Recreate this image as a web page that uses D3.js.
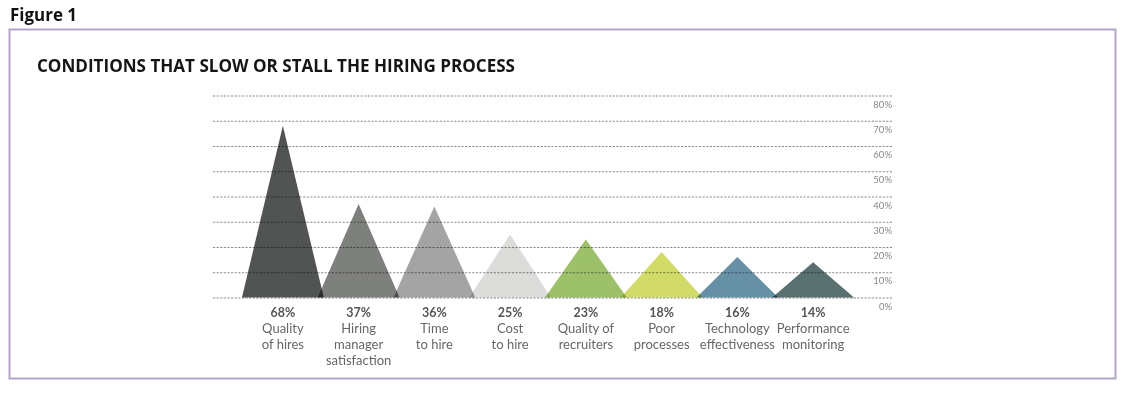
<!DOCTYPE html>
<html>
<head>
<meta charset="utf-8">
<script src="https://cdn.jsdelivr.net/npm/d3@7"></script>
<style>
  html, body { margin: 0; padding: 0; background: #ffffff; }
  svg { display: block; }
</style>
</head>
<body>
<svg id="chart" width="1129" height="397"></svg>
<script>
const categories = ["Quality of hires", "Hiring manager satisfaction", "Time to hire", "Cost to hire",
  "Quality of recruiters", "Poor processes", "Technology effectiveness", "Performance monitoring"];
const categoryLines = [
  ["Quality", "of hires"],
  ["Hiring", "manager", "satisfaction"],
  ["Time", "to hire"],
  ["Cost", "to hire"],
  ["Quality of", "recruiters"],
  ["Poor", "processes"],
  ["Technology", "effectiveness"],
  ["Performance", "monitoring"]
];
const values = [68, 37, 36, 25, 23, 18, 16, 14];
const colors = ["#525453", "#7e807d", "#a3a4a3", "#dcdcda", "#9dc168", "#d2db67", "#6590a6", "#58706f"];
const tickValues = [0, 10, 20, 30, 40, 50, 60, 70, 80];

const svg = d3.select("#chart");

// Figure label and frame
svg.append("text")
  .attr("x", 10).attr("y", 21)
  .attr("font-family", "Open Sans, sans-serif")
  .attr("font-weight", 700).attr("font-size", 18)
  .attr("textLength", 67).attr("lengthAdjust", "spacingAndGlyphs")
  .attr("fill", "#111")
  .text("Figure 1");

svg.append("rect")
  .attr("x", 9.5).attr("y", 29.5)
  .attr("width", 1106).attr("height", 349)
  .attr("fill", "none")
  .attr("stroke", "#b3a3c9").attr("stroke-width", 2);

svg.append("text")
  .attr("x", 37).attr("y", 72)
  .attr("font-family", "Open Sans, sans-serif")
  .attr("font-weight", 700).attr("font-size", 18)
  .attr("textLength", 478).attr("lengthAdjust", "spacingAndGlyphs")
  .attr("fill", "#151515")
  .text("CONDITIONS THAT SLOW OR STALL THE HIRING PROCESS");

// Scales
const x = d3.scaleBand().domain(categories).range([245, 851]).padding(0);
const y = d3.scaleLinear().domain([0, 80]).range([297.5, 95.5]);
const gridX0 = 213, gridX1 = 892;

// Gridlines via axis
const yAxis = d3.axisRight(y)
  .tickValues(tickValues)
  .tickSize(-(gridX1 - gridX0))
  .tickFormat(d => d + "%");

const gAxis = svg.append("g")
  .attr("transform", `translate(${gridX1},0)`)
  .call(yAxis);
gAxis.select(".domain").remove();
gAxis.selectAll(".tick line")
  .attr("stroke", "#8c8c8c")
  .attr("stroke-width", 1.2)
  .attr("stroke-dasharray", "2.2,1.4");
gAxis.selectAll(".tick text")
  .attr("x", 0)
  .attr("dy", 11.5)
  .attr("text-anchor", "end")
  .attr("font-family", "Lato, sans-serif")
  .attr("font-size", 9.5)
  .attr("fill", "#888");

// Triangles
const halfW = x.bandwidth() * 0.54;
const tri = svg.append("g");
tri.selectAll("path")
  .data(categories)
  .join("path")
  .attr("d", (c, i) => {
    const cx = x(c) + x.bandwidth() / 2;
    return `M${cx - halfW},${y(0)} L${cx},${y(values[i])} L${cx + halfW},${y(0)} Z`;
  })
  .attr("fill", (c, i) => colors[i])
  .style("mix-blend-mode", "multiply");

// Labels
const lbl = svg.append("g")
  .attr("font-family", "Lato, sans-serif")
  .attr("text-anchor", "middle");

lbl.selectAll("text.val")
  .data(categories)
  .join("text")
  .attr("class", "val")
  .attr("x", c => x(c) + x.bandwidth() / 2)
  .attr("y", 317)
  .attr("font-weight", 700)
  .attr("font-size", 12.5)
  .attr("fill", "#555")
  .text((c, i) => values[i] + "%");

categories.forEach((c, i) => {
  categoryLines[i].forEach((line, j) => {
    lbl.append("text")
      .attr("x", x(c) + x.bandwidth() / 2)
      .attr("y", 333 + j * 16)
      .attr("font-size", 13)
      .attr("fill", "#666")
      .text(line);
  });
});
</script>
</body>
</html>
